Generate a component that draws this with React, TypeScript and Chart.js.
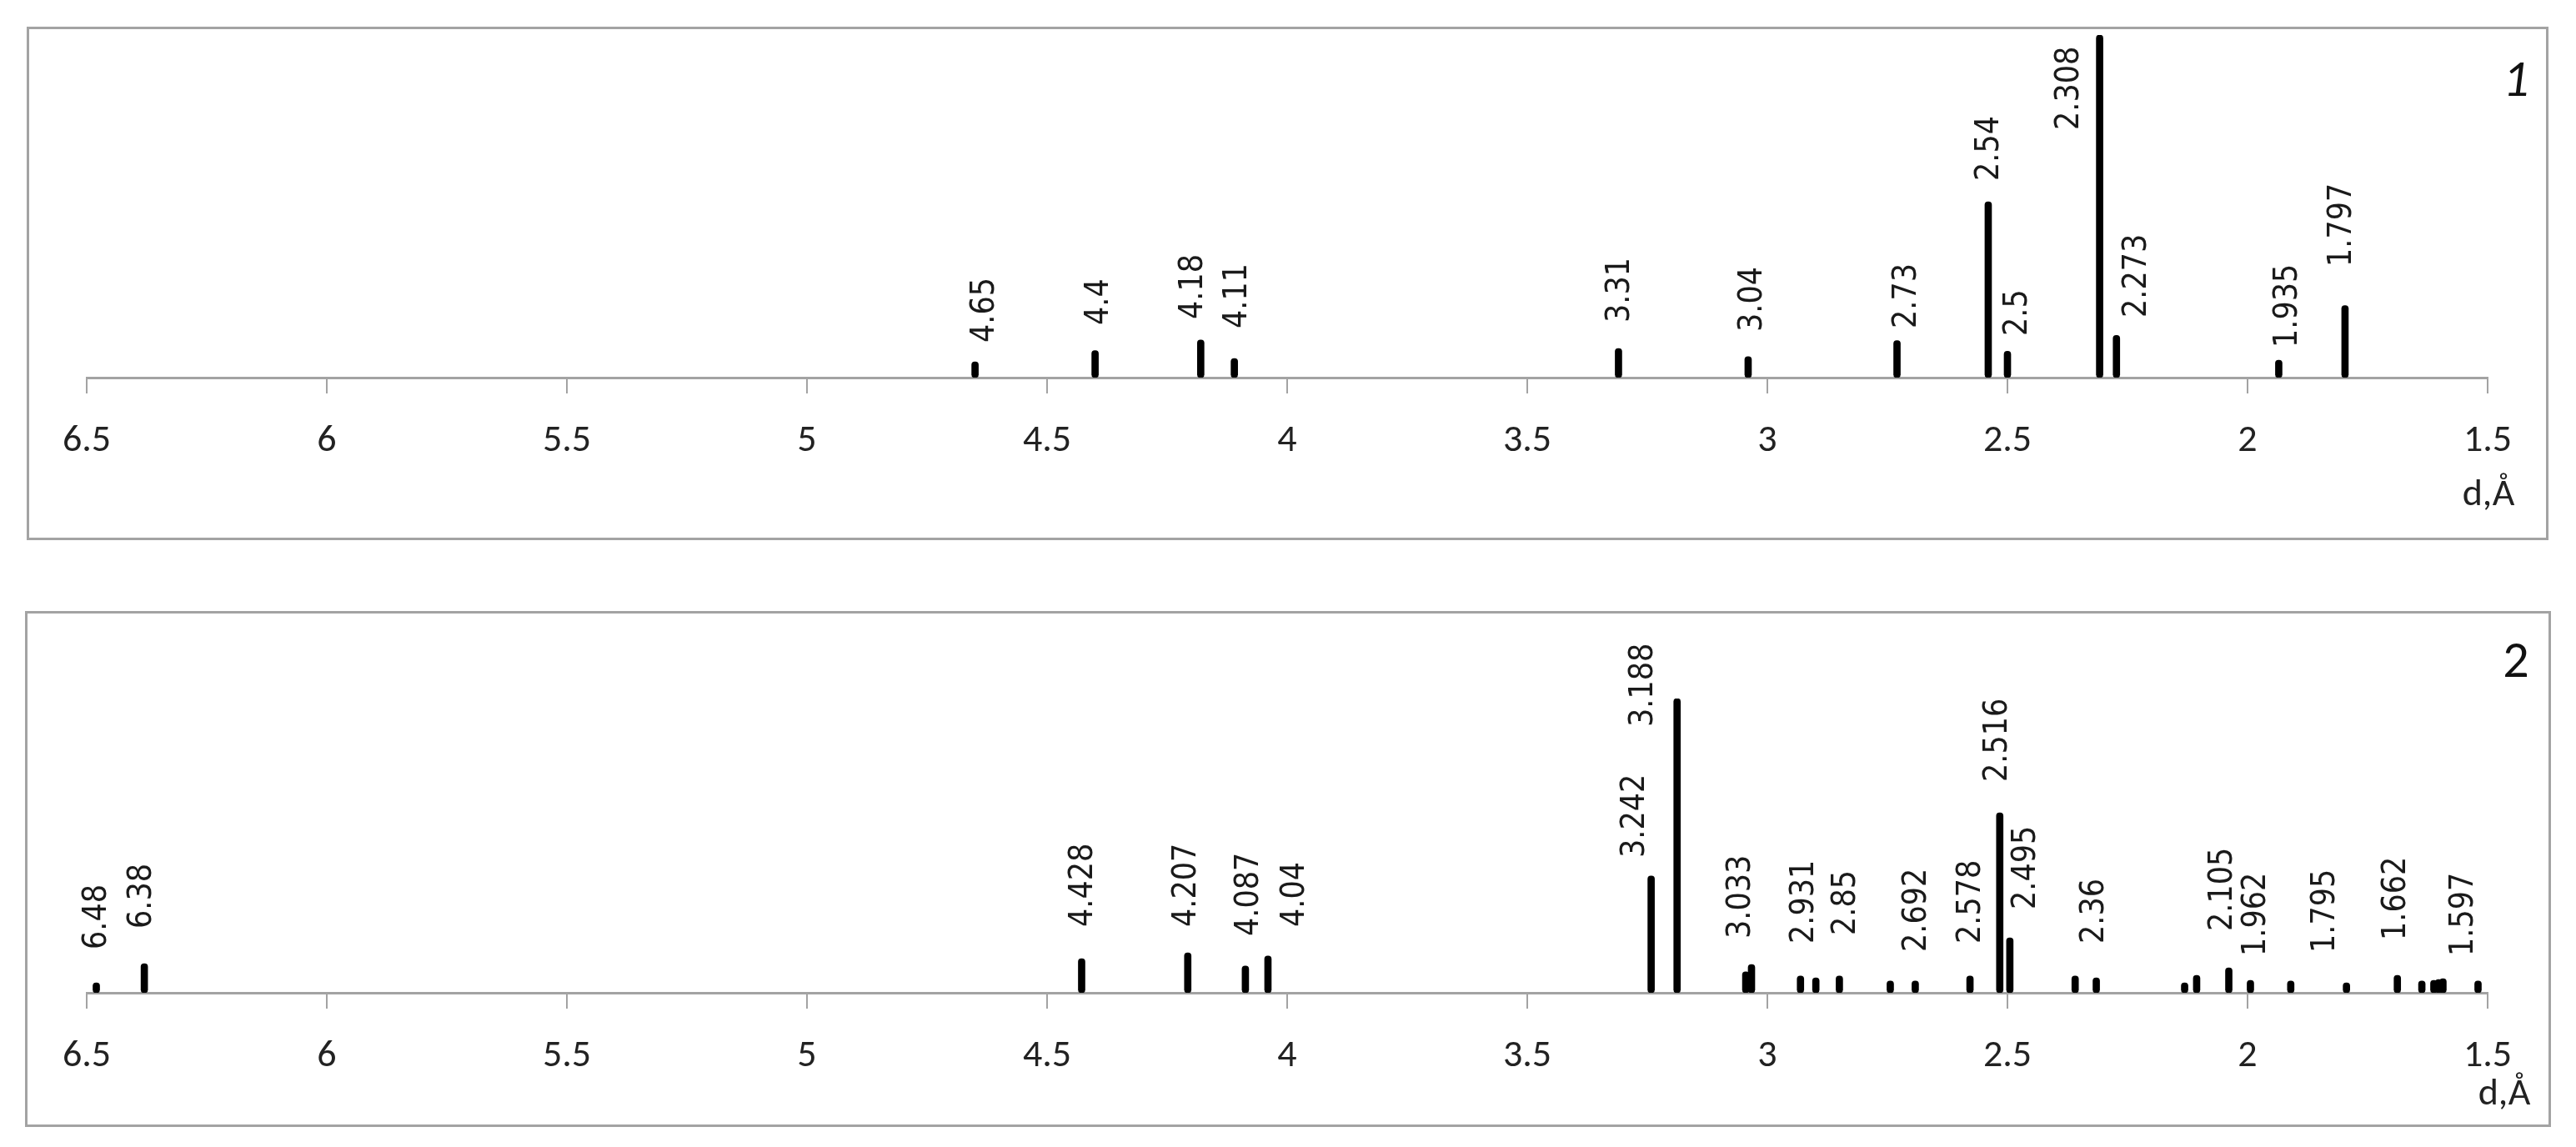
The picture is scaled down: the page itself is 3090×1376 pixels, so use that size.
import React, { useEffect, useRef } from "react";
import { Chart, registerables } from "chart.js";

Chart.register(...registerables);

// ---------- data ----------
const xTickValues = [6.5, 6, 5.5, 5, 4.5, 4, 3.5, 3, 2.5, 2, 1.5];
const xTickLabels = ["6.5", "6", "5.5", "5", "4.5", "4", "3.5", "3", "2.5", "2", "1.5"];
const xAxisTitle = "d,Å";

// Pattern 1: d-spacing (Å) and relative intensity (%)
const p1D = [4.65, 4.4, 4.18, 4.11, 3.31, 3.04, 2.73, 2.54, 2.5, 2.308, 2.273, 1.935, 1.797];
const p1I = [4.6, 7.9, 11, 5.6, 8.5, 6.1, 10.8, 51.3, 7.7, 100, 12.3, 5.1, 21];
const p1LabelText = ["4.65", "4.4", "4.18", "4.11", "3.31", "3.04", "2.73", "2.54", "2.5", "2.308", "2.273", "1.935", "1.797"];
const p1LabelBar = [0, 1, 2, 3, 4, 5, 6, 7, 8, 9, 10, 11, 12];
const p1Number = "1";

// Pattern 2
const p2D = [6.48, 6.38, 4.428, 4.207, 4.087, 4.04, 3.242, 3.188, 3.045, 3.033, 2.931, 2.899, 2.85, 2.744, 2.692, 2.578, 2.516, 2.495, 2.359, 2.315, 2.131, 2.106, 2.039, 1.994, 1.91, 1.794, 1.688, 1.637, 1.612, 1.602, 1.593, 1.52];
const p2I = [3.4, 9.9, 11.6, 13.6, 9.1, 12.5, 39.7, 100, 7.1, 9.6, 5.7, 5.1, 5.7, 4.0, 4.0, 5.7, 61.2, 18.7, 5.7, 5.1, 3.4, 5.9, 8.5, 4.2, 4.0, 3.4, 5.9, 4.0, 4.2, 4.5, 4.8, 4.0];
const p2LabelText = ["6.48", "6.38", "4.428", "4.207", "4.087", "4.04", "3.242", "3.188", "3.033", "2.931", "2.85", "2.692", "2.578", "2.516", "2.495", "2.36", "2.105", "1.962", "1.795", "1.662", "1.597"];
const p2LabelBar = [0, 1, 2, 3, 4, 5, 6, 7, 9, 10, 12, 14, 15, 16, 17, 18, 22, 23, 25, 26, 31];
const p2Number = "2";

// ---------- layout (pixels, not data) ----------
const p1LabelDx = [12, 5, -8, 4, 2, 6, 12, 2, 13, -36, 25, 11, -3];
const p1LabelLift = [42, 63, 70, 59, 66, 55, 59, 236, 50, 297, 72, 36, 133];
const p2LabelDx = [1, -2, 2, -1, 5, 33, -19, -40, -12, 5, 8, 2, 2, -2, 20, 24, -7, 7, -25, -1, -17];
const p2LabelLift = [52, 77, 79, 79, 68, 79, 162, 319, 65, 59, 69, 49, 59, 253, 100, 59, 74, 44, 48, 63, 44];

const TICK_FONT = "Carlito, Calibri, Lato, 'Open Sans', sans-serif";
const LABEL_FONT = "'DejaVu Sans Condensed', 'DejaVu Sans', Verdana, sans-serif";
const GREY = "#a3a3a3";

type PanelCfg = {
  d: number[];
  inten: number[];
  labelText: string[];
  labelBar: number[];
  labelDx: number[];
  labelLift: number[];
  num: string;
  numItalic: boolean;
  box: { left: number; top: number; width: number; height: number };
  pad: { left: number; right: number; top: number };
  axisH: number;
  titleDx: number;
  titleDy: number;
  numX: number;
  numY: number;
};

function makeLabelPlugin(cfg: PanelCfg) {
  return {
    id: "stickLabels",
    afterDatasetsDraw(chart: any) {
      const { ctx } = chart;
      const xs = chart.scales.x;
      const ys = chart.scales.y;
      const base = ys.getPixelForValue(0);
      ctx.save();
      ctx.fillStyle = "#1a1a1a";
      ctx.font = `39px ${LABEL_FONT}`;
      ctx.textAlign = "left";
      ctx.textBaseline = "middle";
      cfg.labelText.forEach((t, i) => {
        const x = xs.getPixelForValue(cfg.d[cfg.labelBar[i]]) + cfg.labelDx[i];
        const y = base - cfg.labelLift[i];
        ctx.save();
        ctx.translate(x, y);
        ctx.rotate(-Math.PI / 2);
        ctx.fillText(t, 0, 0);
        ctx.restore();
      });
      // axis title
      ctx.font = `46px ${TICK_FONT}`;
      ctx.textAlign = "center";
      ctx.textBaseline = "alphabetic";
      ctx.fillStyle = "#222";
      ctx.fillText(xAxisTitle, xs.getPixelForValue(1.5) + cfg.titleDx, base + cfg.titleDy);
      // panel number
      ctx.font = `${cfg.numItalic ? "italic " : ""}62px ${TICK_FONT}`;
      ctx.fillStyle = "#111";
      ctx.fillText(cfg.num, cfg.numX, cfg.numY);
      ctx.restore();
    },
  };
}

function Panel({ cfg }: { cfg: PanelCfg }) {
  const ref = useRef<HTMLCanvasElement | null>(null);
  useEffect(() => {
    const canvas = ref.current;
    if (!canvas) return;
    const chart = new Chart(canvas, {
      type: "bar",
      data: {
        datasets: [
          {
            data: cfg.d.map((d, i) => ({ x: d, y: cfg.inten[i] })),
            backgroundColor: "#000",
            borderWidth: 0,
            barThickness: 8,
            borderRadius: 4,
            borderSkipped: false,
            grouped: false,
          } as any,
        ],
      },
      options: {
        animation: false,
        responsive: false,
        devicePixelRatio: 1,
        layout: { padding: { left: cfg.pad.left, right: cfg.pad.right, top: cfg.pad.top, bottom: 0 } },
        plugins: { legend: { display: false }, tooltip: { enabled: false } },
        scales: {
          x: {
            type: "linear",
            reverse: true,
            min: 1.5,
            max: 6.5,
            offset: false,
            afterBuildTicks: (s: any) => {
              s.ticks = xTickValues.map((v) => ({ value: v }));
            },
            afterFit: (s: any) => {
              s.height = cfg.axisH;
            },
            ticks: {
              autoSkip: false,
              maxRotation: 0,
              minRotation: 0,
              padding: 30,
              color: "#222",
              font: { family: TICK_FONT, size: 46 },
              callback: (v: any) => {
                const idx = xTickValues.indexOf(Number(v));
                return idx >= 0 ? xTickLabels[idx] : "";
              },
            },
            grid: {
              display: true,
              drawOnChartArea: false,
              drawTicks: true,
              tickLength: 19,
              color: GREY,
              lineWidth: 2,
              offset: false,
            },
            border: { display: true, color: GREY, width: 3 },
          } as any,
          y: { display: false, min: 0, max: 100 },
        },
      } as any,
      plugins: [makeLabelPlugin(cfg)],
    });
    return () => chart.destroy();
  }, [cfg]);

  const { left, top, width, height } = cfg.box;
  return (
    <div style={{ position: "absolute", left, top, width, height }}>
      <canvas
        ref={ref}
        width={width}
        height={height}
        style={{ position: "absolute", left: 0, top: 0, width, height }}
      />
      <div
        style={{
          position: "absolute",
          left: 0,
          top: 0,
          width,
          height,
          boxSizing: "border-box",
          border: `3px solid ${GREY}`,
          pointerEvents: "none",
        }}
      />
    </div>
  );
}

const panel1: PanelCfg = {
  d: p1D,
  inten: p1I,
  labelText: p1LabelText,
  labelBar: p1LabelBar,
  labelDx: p1LabelDx,
  labelLift: p1LabelLift,
  num: p1Number,
  numItalic: true,
  box: { left: 32, top: 32, width: 3025, height: 616 },
  pad: { left: 72, right: 73, top: 10 },
  axisH: 195,
  titleDx: 1,
  titleDy: 153,
  numX: 2986,
  numY: 83,
};

const panel2: PanelCfg = {
  d: p2D,
  inten: p2I,
  labelText: p2LabelText,
  labelBar: p2LabelBar,
  labelDx: p2LabelDx,
  labelLift: p2LabelLift,
  num: p2Number,
  numItalic: false,
  box: { left: 30, top: 733, width: 3030, height: 619 },
  pad: { left: 74, right: 76, top: 105 },
  axisH: 161,
  titleDx: 20,
  titleDy: 134,
  numX: 2988,
  numY: 79,
};

export default function App() {
  return (
    <div
      style={{
        position: "fixed",
        left: 0,
        top: 0,
        width: 3090,
        height: 1376,
        background: "#fff",
        overflow: "hidden",
      }}
    >
      <Panel cfg={panel1} />
      <Panel cfg={panel2} />
    </div>
  );
}
